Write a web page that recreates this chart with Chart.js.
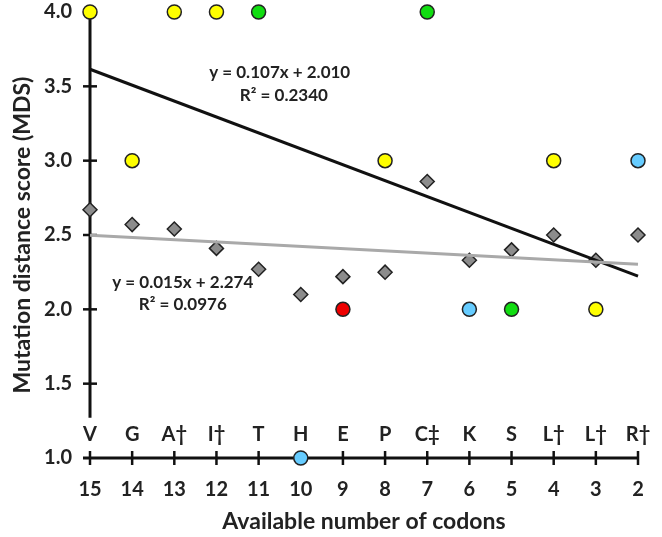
<!DOCTYPE html>
<html>
<head>
<meta charset="utf-8">
<script src="https://cdn.jsdelivr.net/npm/chart.js@4.4.0/dist/chart.umd.min.js"></script>
<style>
  html, body { margin: 0; padding: 0; background: #fff; }
  #wrap { width: 662px; height: 537px; position: relative; }
</style>
</head>
<body>
<div id="wrap"><canvas id="chartMDS"></canvas></div>
<script>
// codones disponibles (eje x, invertido) y aminoácidos
const codons = [15, 14, 13, 12, 11, 10, 9, 8, 7, 6, 5, 4, 3, 2];
const aminoLabels = ['V', 'G', 'A\u2020', 'I\u2020', 'T', 'H', 'E', 'P', 'C\u2021', 'K', 'S', 'L\u2020', 'L\u2020', 'R\u2020'];

// puntuación MDS promedio (rombos grises)
const mdsAverage = [2.67, 2.57, 2.54, 2.41, 2.27, 2.10, 2.22, 2.25, 2.86, 2.33, 2.40, 2.50, 2.33, 2.50];
// puntuación MDS individual (círculos de colores) y su grupo
const mdsScore = [4, 3, 4, 4, 4, 1, 2, 3, 4, 2, 2, 3, 2, 3];
const scoreGroup = ['yellow', 'yellow', 'yellow', 'yellow', 'green', 'blue', 'red', 'yellow', 'green', 'blue', 'green', 'yellow', 'yellow', 'blue'];

// extremos de las líneas de tendencia
const trendX = [15, 2];
const trendScore = [3.615, 2.224];
const trendAverage = [2.499, 2.304];

const yTicks = [1.0, 1.5, 2.0, 2.5, 3.0, 3.5, 4.0];

const palette = {
    yellow: '#ffff00',
    green: '#11dd11',
    blue: '#66ccff',
    red: '#ee0000'
};

const FONT = 'Lato, "Open Sans", sans-serif';

const axesPlugin = {
    id: 'customAxes',
    beforeDatasetsDraw(chart) {
        const { ctx, scales: { x, y } } = chart;
        const x0 = x.getPixelForValue(15);
        const y0 = y.getPixelForValue(1);
        ctx.save();
        ctx.strokeStyle = '#111';
        ctx.lineCap = 'butt';

        // eje vertical (se corta antes de las letras)
        ctx.lineWidth = 3;
        ctx.beginPath();
        ctx.moveTo(x0, y.getPixelForValue(4));
        ctx.lineTo(x0, y.getPixelForValue(1.27));
        ctx.stroke();

        // eje horizontal en y = 1.0
        ctx.beginPath();
        ctx.moveTo(x0 - 7, y0);
        ctx.lineTo(x.getPixelForValue(2), y0);
        ctx.stroke();

        ctx.lineWidth = 2.5;
        yTicks.slice(1, 6).forEach(v => {
            const py = y.getPixelForValue(v);
            ctx.beginPath();
            ctx.moveTo(x0 - 7, py);
            ctx.lineTo(x0 + 7, py);
            ctx.stroke();
        });
        codons.forEach(c => {
            const px = x.getPixelForValue(c);
            ctx.beginPath();
            ctx.moveTo(px, y0 - 7);
            ctx.lineTo(px, y0 + 7);
            ctx.stroke();
        });

        // letras de aminoácidos sobre el eje
        ctx.fillStyle = '#222';
        ctx.font = 'bold 20px ' + FONT;
        ctx.textAlign = 'center';
        ctx.textBaseline = 'middle';
        codons.forEach((c, i) => {
            ctx.fillText(aminoLabels[i], x.getPixelForValue(c), y0 - 23);
        });

        // ecuaciones
        ctx.font = 'bold 17px ' + FONT;
        ctx.fillStyle = '#222';
        ctx.fillText('y = 0.107x + 2.010', x.getPixelForValue(10.5), y.getPixelForValue(3.59));
        ctx.fillText('R\u00B2 = 0.2340', x.getPixelForValue(10.4), y.getPixelForValue(3.44));
        ctx.fillText('y = 0.015x + 2.274', x.getPixelForValue(12.8), y.getPixelForValue(2.18));
        ctx.fillText('R\u00B2 = 0.0976', x.getPixelForValue(12.8), y.getPixelForValue(2.03));
        ctx.restore();
    }
};

const ctx = document.getElementById('chartMDS').getContext('2d');

new Chart(ctx, {
    type: 'scatter',
    data: {
        datasets: [
            {
                type: 'line',
                data: trendX.map((v, i) => ({ x: v, y: trendAverage[i] })),
                borderColor: '#a9a9a9',
                borderWidth: 3,
                pointRadius: 0,
                clip: false
            },
            {
                type: 'line',
                data: trendX.map((v, i) => ({ x: v, y: trendScore[i] })),
                borderColor: '#111',
                borderWidth: 3,
                pointRadius: 0,
                clip: false
            },
            {
                data: codons.map((c, i) => ({ x: c, y: mdsAverage[i] })),
                pointStyle: 'rectRot',
                pointRadius: 7,
                backgroundColor: '#8c8c8c',
                borderColor: '#222',
                borderWidth: 1.5,
                clip: false
            },
            {
                data: codons.map((c, i) => ({ x: c, y: mdsScore[i] })),
                pointStyle: 'circle',
                pointRadius: 7,
                backgroundColor: scoreGroup.map(g => palette[g]),
                borderColor: '#222',
                borderWidth: 1.5,
                clip: false
            }
        ]
    },
    options: {
        responsive: true,
        maintainAspectRatio: false,
        animation: false,
        layout: { autoPadding: false, padding: { top: 12, right: 24, left: 0, bottom: 0 } },
        plugins: {
            legend: { display: false },
            tooltip: { enabled: false }
        },
        scales: {
            x: {
                type: 'linear',
                reverse: true,
                min: 2,
                max: 15,
                afterFit: s => { s.height = 79; s.paddingLeft = 0; s.paddingRight = 0; },
                afterBuildTicks: s => { s.ticks = codons.map(v => ({ value: v })); },
                grid: { display: false, drawTicks: false },
                border: { display: false },
                ticks: {
                    autoSkip: false,
                    maxRotation: 0,
                    padding: 20,
                    color: '#222',
                    font: { family: FONT, size: 20, weight: 'bold' }
                },
                title: {
                    display: true,
                    text: 'Available number of codons',
                    color: '#222',
                    padding: { top: 0, bottom: 2 },
                    font: { family: FONT, size: 23, weight: 'bold' }
                }
            },
            y: {
                min: 1,
                max: 4,
                afterFit: s => { s.width = 90; s.paddingTop = 0; s.paddingBottom = 0; },
                afterBuildTicks: s => { s.ticks = yTicks.map(v => ({ value: v })); },
                grid: { display: false, drawTicks: false },
                border: { display: false },
                ticks: {
                    padding: 18,
                    color: '#222',
                    callback: v => v.toFixed(1),
                    font: { family: FONT, size: 20, weight: 'bold' }
                },
                title: {
                    display: true,
                    text: 'Mutation distance score (MDS)',
                    color: '#222',
                    padding: { top: 9, bottom: 0 },
                    font: { family: FONT, size: 23, weight: 'bold' }
                }
            }
        }
    },
    plugins: [axesPlugin]
});
</script>
</body>
</html>
